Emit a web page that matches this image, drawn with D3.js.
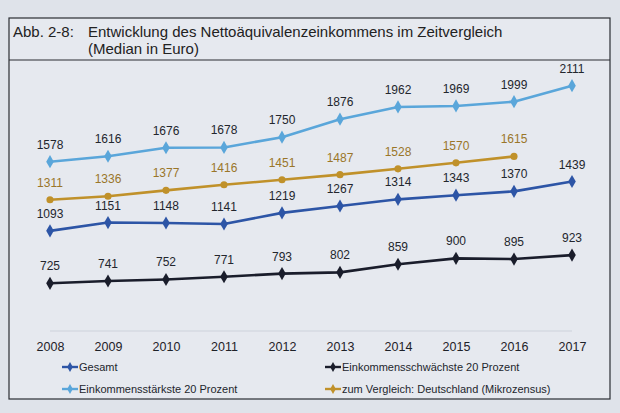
<!DOCTYPE html>
<html>
<head>
<meta charset="utf-8">
<script src="https://cdn.jsdelivr.net/npm/d3@7"></script>
<style>
  html, body { margin: 0; padding: 0; background: #dfe3ea; }
  svg { display: block; font-family: "Liberation Sans", Arial, sans-serif; }
</style>
</head>
<body>
<div id="chart"></div>
<script>
// data
var years = [2008, 2009, 2010, 2011, 2012, 2013, 2014, 2015, 2016, 2017];
var gesamt = [1093, 1151, 1148, 1141, 1219, 1267, 1314, 1343, 1370, 1439];
var schwaechste = [725, 741, 752, 771, 793, 802, 859, 900, 895, 923];
var staerkste = [1578, 1616, 1676, 1678, 1750, 1876, 1962, 1969, 1999, 2111];
var mikrozensus = [1311, 1336, 1377, 1416, 1451, 1487, 1528, 1570, 1615];

var seriesNames = ["Gesamt", "Einkommensschwächste 20 Prozent",
  "Einkommensstärkste 20 Prozent", "zum Vergleich: Deutschland (Mikrozensus)"];

var W = 620, H = 413;
var svg = d3.select("#chart").append("svg").attr("width", W).attr("height", H);

// page tone
svg.append("rect").attr("width", W).attr("height", H).attr("fill", "#dfe3ea");

// frame + title
var box = svg.append("g");
box.append("rect").attr("x", 9).attr("y", 18).attr("width", 601).attr("height", 381)
  .attr("fill", "#e6e9ef").attr("stroke", "#2b2d33").attr("stroke-width", 1.2);
box.append("line").attr("x1", 9).attr("x2", 610).attr("y1", 60).attr("y2", 60)
  .attr("stroke", "#2b2d33").attr("stroke-width", 1.2);

box.append("text").attr("x", 13).attr("y", 37).attr("font-size", 15).attr("fill", "#222")
  .text("Abb. 2-8:");
box.append("text").attr("x", 88).attr("y", 37).attr("font-size", 15).attr("fill", "#222")
  .text("Entwicklung des Nettoäquivalenzeinkommens im Zeitvergleich");
box.append("text").attr("x", 88).attr("y", 54).attr("font-size", 15).attr("fill", "#222")
  .text("(Median in Euro)");

var x = d3.scalePoint().domain(years).range([50, 572]);
var y = d3.scaleLinear().domain([500, 2200]).range([315.4, 73]);

// faint base line
svg.append("line").attr("x1", 50).attr("x2", 572).attr("y1", 331).attr("y2", 331)
  .attr("stroke", "#cdd2db").attr("stroke-width", 1);

var xAxis = svg.append("g").attr("transform", "translate(0,351)")
  .call(d3.axisBottom(x).tickSize(0).tickPadding(0));
xAxis.select(".domain").remove();
xAxis.selectAll("text").attr("font-size", 12.5).attr("fill", "#1e2128")
  .attr("font-family", "Liberation Sans, Arial, sans-serif").attr("dy", 0);

var series = [
  { name: seriesNames[2], values: staerkste, color: "#5aa6da", label: "#23262d", shape: d3.symbolDiamond },
  { name: seriesNames[3], values: mikrozensus, color: "#c0912a", label: "#9a7629", shape: d3.symbolCircle },
  { name: seriesNames[0], values: gesamt, color: "#2d55a6", label: "#23262d", shape: d3.symbolDiamond },
  { name: seriesNames[1], values: schwaechste, color: "#1a1d2b", label: "#23262d", shape: d3.symbolDiamond }
];

var line = d3.line().x(function(d, i) { return x(years[i]); }).y(function(d) { return y(d); });

series.forEach(function(s) {
  var g = svg.append("g");
  g.append("path").attr("d", line(s.values)).attr("fill", "none")
    .attr("stroke", s.color).attr("stroke-width", 2.6).attr("stroke-linejoin", "round");
  g.selectAll("path.pt").data(s.values).enter().append("path").attr("class", "pt")
    .attr("d", d3.symbol().type(s.shape).size(s.shape === d3.symbolCircle ? 40 : 50))
    .attr("transform", function(d, i) { return "translate(" + x(years[i]) + "," + y(d) + ")"; })
    .attr("fill", s.color);
  g.selectAll("text").data(s.values).enter().append("text")
    .attr("x", function(d, i) { return x(years[i]); })
    .attr("y", function(d) { return y(d) - 13; })
    .attr("text-anchor", "middle").attr("font-size", 12).attr("fill", s.label)
    .text(function(d) { return d; });
});

// legend: Gesamt | Schwächste  /  Stärkste | Mikrozensus
function byName(n) { return series.find(function(d) { return d.name === n; }); }
var legendRows = [
  { s: byName(seriesNames[0]), pos: [62, 367] },
  { s: byName(seriesNames[1]), pos: [325, 367] },
  { s: byName(seriesNames[2]), pos: [62, 389] },
  { s: byName(seriesNames[3]), pos: [325, 389] }
];
var lg = svg.selectAll("g.leg").data(legendRows).enter().append("g").attr("class", "leg")
  .attr("transform", function(d) { return "translate(" + d.pos[0] + "," + d.pos[1] + ")"; });
lg.append("line").attr("x1", 0).attr("x2", 16).attr("stroke", function(d) { return d.s.color; })
  .attr("stroke-width", 2.4);
lg.append("path").attr("transform", "translate(8,0)")
  .attr("d", d3.symbol().type(d3.symbolDiamond).size(28)).attr("fill", function(d) { return d.s.color; });
lg.append("text").attr("x", 17).attr("dy", "0.35em").attr("font-size", 11).attr("fill", "#23262d")
  .text(function(d) { return d.s.name; });
</script>
</body>
</html>
